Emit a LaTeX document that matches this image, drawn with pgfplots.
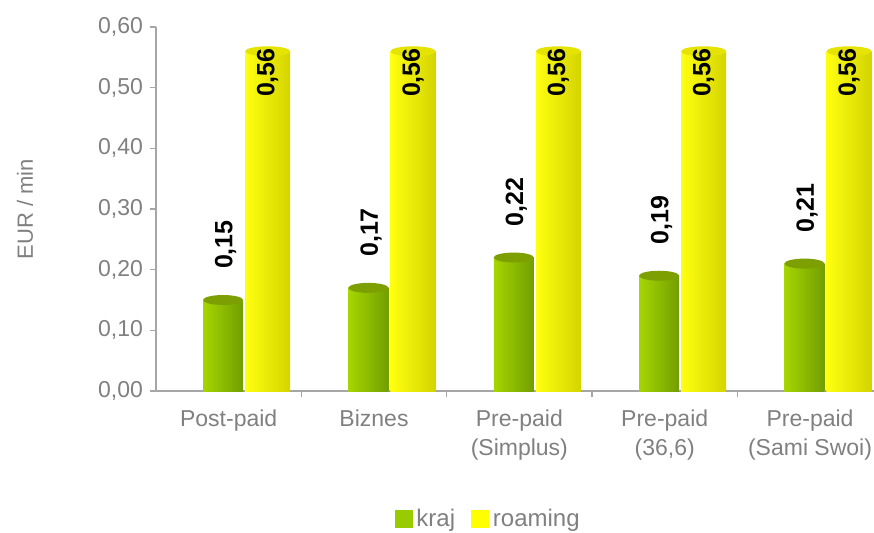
\documentclass[border=0pt]{standalone}
\usepackage{fontspec}
\setmainfont{Liberation Sans}
\usepackage{pgfplots}
\pgfplotsset{compat=1.18}
\definecolor{gl}{HTML}{A6D600}
\definecolor{gm}{HTML}{8DBD00}
\definecolor{gd}{HTML}{729E00}
\definecolor{gcap}{HTML}{7E9F00}
\definecolor{yl}{HTML}{FFFF10}
\definecolor{ym}{HTML}{F2F200}
\definecolor{yd}{HTML}{D4D400}
\definecolor{ycap}{HTML}{E4E400}
\definecolor{gleg}{HTML}{99CC00}
\definecolor{yleg}{HTML}{FFFF00}
\definecolor{txt}{HTML}{808080}
\definecolor{axc}{HTML}{A6A6A6}
\pgfdeclareplotmark{gcapmark}{\pgfpathellipse{\pgfpointorigin}{\pgfpoint{10pt}{0pt}}{\pgfpoint{0pt}{2.5pt}}\pgfusepathqfill}
\pgfdeclareplotmark{ycapmark}{\pgfpathellipse{\pgfpointorigin}{\pgfpoint{11.25pt}{0pt}}{\pgfpoint{0pt}{2.5pt}}\pgfusepathqfill}
\pgfplotsset{
  gbar/.style={ybar, bar width=20pt, bar shift=-2.8pt, draw=none,
    left color=gl, middle color=gm, right color=gd, forget plot,
    nodes near coords,
    every node near coord/.append style={yshift=12pt, xshift=-1.5pt, rotate=90, anchor=west,
      font=\fontsize{12.5}{14}\bfseries\selectfont, text=black}},
  ybarst/.style={ybar, bar width=22.5pt, bar shift=19.5pt, draw=none,
    left color=yl, middle color=ym, right color=yd, forget plot},
}
\begin{document}
\begin{tikzpicture}
\begin{axis}[
  name=ax,
  scale only axis, width=359pt, height=182pt,
  xmin=-0.5, xmax=4.44, ymin=0, ymax=0.6,
  axis x line*=bottom, axis y line*=left,
  axis line style={draw=axc, line width=0.8pt, -},
  tick align=outside,
  xtick={0,1,2,3,4},
  xticklabels={Post-paid, Biznes, {Pre-paid\\(Simplus)}, {Pre-paid\\(36,6)}, {Pre-paid\\(Sami Swoi)}},
  xticklabel style={align=center, font=\fontsize{11.5}{14.5}\selectfont, text=txt, yshift=-3pt},
  minor x tick num=1,
  major x tick style={draw=none},
  minor x tick style={draw=axc, line width=0.8pt},
  minor tick length=3pt,
  ytick={0,0.1,0.2,0.3,0.4,0.5,0.6},
  y tick style={draw=axc, line width=0.8pt},
  major tick length=3pt,
  yticklabel style={font=\fontsize{11.5}{14}\selectfont, text=txt},
  /pgf/number format/use comma,
  /pgf/number format/fixed,
  /pgf/number format/fixed zerofill,
  /pgf/number format/precision=2,
  /pgf/number format/assume math mode=true,
  ylabel={EUR / min},
  ylabel style={at={(axis description cs:-0.1825,0.5)}, anchor=center, font=\fontsize{11}{13}\selectfont, text=txt},
  legend style={at={(0.464,-0.352)}, anchor=center, draw=none, legend columns=-1,
    font=\fontsize{12}{14}\selectfont, text=txt,
    /tikz/every even column/.append style={column sep=6pt}},
  clip=false,
]
% kraj (green)
\addplot[gbar] coordinates {(0,0.15)};
\addplot[gbar] coordinates {(1,0.17)};
\addplot[gbar] coordinates {(2,0.22)};
\addplot[gbar] coordinates {(3,0.19)};
\addplot[gbar] coordinates {(4,0.21)};
\addplot[only marks, mark=gcapmark, color=gcap, forget plot, mark options={xshift=-2.8pt}]
  coordinates {(0,0.15) (1,0.17) (2,0.22) (3,0.19) (4,0.21)};
% roaming (yellow)
\addplot[ybarst] coordinates {(0,0.56)};
\addplot[ybarst] coordinates {(1,0.56)};
\addplot[ybarst] coordinates {(2,0.56)};
\addplot[ybarst] coordinates {(3,0.56)};
\addplot[ybarst] coordinates {(4,0.56)};
\addplot[only marks, mark=ycapmark, color=ycap, forget plot, mark options={xshift=19.5pt},
  nodes near coords,
  every node near coord/.append style={yshift=5pt, rotate=90, anchor=east,
    font=\fontsize{12.5}{14}\bfseries\selectfont, text=black}]
  coordinates {(0,0.56) (1,0.56) (2,0.56) (3,0.56) (4,0.56)};
\addlegendimage{legend image code/.code={\fill[gleg] (0pt,-4.25pt) rectangle (8.5pt,4.25pt);}}
\addlegendentry{kraj}
\addlegendimage{legend image code/.code={\fill[yleg] (0pt,-4.25pt) rectangle (8.5pt,4.25pt);}}
\addlegendentry{roaming}
\end{axis}
\pgfresetboundingbox
\path[use as bounding box] ([shift={(-78pt,-70.5pt)}]ax.south west) rectangle ([shift={(359pt,195.5pt)}]ax.south west);
\end{tikzpicture}
\end{document}
